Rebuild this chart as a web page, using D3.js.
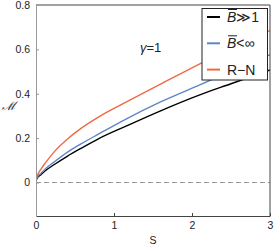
<!DOCTYPE html>
<html lang="en">
  <head>
    <meta charset="UTF-8" />
    <title>M vs S</title>
    <script src="https://d3js.org/d3.v7.min.js"></script>
    <style>
      body { margin: 0; background: #fff; }
      text { font-family: 'Liberation Sans', Arial, sans-serif; fill: #222; }
    </style>
  </head>
  <body>
    <div id="chart"></div>
    <script>
      // values
      const sValues = [0, 0.005, 0.02, 0.06, 0.128, 0.23, 0.4, 0.577, 0.8, 1.154, 1.59, 2.1, 2.5, 3.0];
      const mLarge = [0, 0.012, 0.022, 0.034, 0.055, 0.08, 0.118, 0.154, 0.197, 0.254, 0.322, 0.395, 0.445, 0.507];
      const mFinite = [0, 0.014, 0.026, 0.04, 0.064, 0.092, 0.136, 0.174, 0.218, 0.286, 0.362, 0.44, 0.502, 0.576];
      const mRN = [0, 0.018, 0.034, 0.058, 0.092, 0.137, 0.195, 0.244, 0.295, 0.362, 0.442, 0.535, 0.605, 0.685];
      const seriesNames = ['B\u0305\u226B1', 'B\u0305<\u221E', 'R\u2212N'];
      const seriesColors = ['#000000', '#5e86c6', '#ee6a42'];
      const xTicks = [0, 1, 2, 3];
      const yTicks = [0, 0.2, 0.4, 0.6, 0.8];

      const W = 274, H = 247;
      const margin = { top: 5, right: 4, bottom: 31, left: 36 };
      const width = W - margin.left - margin.right;
      const height = H - margin.top - margin.bottom;

      const svg = d3.select('#chart').append('svg')
        .attr('width', W).attr('height', H);

      const g = svg.append('g')
        .attr('transform', 'translate(' + margin.left + ',' + margin.top + ')');

      const x = d3.scaleLinear().domain([0, 3]).range([0, width]);
      const y = d3.scaleLinear().domain([-0.151, 0.8]).range([height, 0]);

      g.append('clipPath').attr('id', 'clip')
        .append('rect').attr('width', width).attr('height', height);

      // zero line
      g.append('line')
        .attr('x1', 0).attr('x2', width)
        .attr('y1', y(0)).attr('y2', y(0))
        .attr('stroke', '#999').attr('stroke-width', 1.2)
        .attr('stroke-dasharray', '5,3');

      const series = [mLarge, mFinite, mRN];
      const line = d3.line()
        .x((d, i) => x(sValues[i]))
        .y((d) => y(d))
        .curve(d3.curveMonotoneX);

      const plot = g.append('g').attr('clip-path', 'url(#clip)');
      series.forEach((s, k) => {
        plot.append('path')
          .datum(s)
          .attr('d', line)
          .attr('fill', 'none')
          .attr('stroke', seriesColors[k])
          .attr('stroke-width', 1.4);
      });

      // frame
      g.append('line').attr('x1', 0).attr('x2', width).attr('y1', 0).attr('y2', 0)
        .attr('stroke', '#444');
      g.append('line').attr('x1', width).attr('x2', width).attr('y1', 0).attr('y2', height)
        .attr('stroke', '#444');

      const xAxis = g.append('g')
        .attr('transform', 'translate(0,' + height + ')')
        .call(d3.axisBottom(x).tickValues(xTicks).tickFormat(d3.format('d'))
          .tickSizeInner(-3).tickSizeOuter(0).tickPadding(6));
      xAxis.select('.domain').attr('stroke', '#444');
      xAxis.selectAll('.tick line').attr('stroke', '#444');
      xAxis.selectAll('text').attr('font-size', 10.5).attr('fill', '#222')
        .attr('font-family', 'Liberation Sans, Arial, sans-serif');

      const yAxis = g.append('g')
        .call(d3.axisLeft(y).tickValues(yTicks).tickFormat((d) => (d === 0 ? '0' : d3.format('.1f')(d)))
          .tickSizeInner(-3).tickSizeOuter(0).tickPadding(6));
      yAxis.select('.domain').attr('stroke', '#999');
      yAxis.selectAll('.tick line').attr('stroke', '#999');
      yAxis.selectAll('text').attr('font-size', 10.5).attr('fill', '#222')
        .attr('font-family', 'Liberation Sans, Arial, sans-serif');

      // axis titles
      svg.append('text')
        .attr('x', 153).attr('y', 244)
        .attr('text-anchor', 'middle').attr('font-size', 10.5)
        .text('S');
      svg.append('text')
        .attr('x', 9).attr('y', 110)
        .attr('text-anchor', 'middle').attr('font-size', 12)
        .attr('font-style', 'italic')
        .attr('font-family', 'DejaVu Serif, serif')
        .text('\u2133');

      svg.append('text')
        .attr('x', 140).attr('y', 52)
        .attr('font-size', 13)
        .html('<tspan font-style="italic">\u03B3</tspan>=1');

      // legend
      const lg = svg.append('g').attr('transform', 'translate(202,8.5)');
      lg.append('rect')
        .attr('width', 65.5).attr('height', 71.5)
        .attr('fill', '#fff').attr('stroke', '#222').attr('stroke-width', 1);
      seriesNames.forEach((name, k) => {
        const yy = 8.5 + k * 26.3;
        lg.append('line')
          .attr('x1', 5).attr('x2', 18).attr('y1', yy).attr('y2', yy)
          .attr('stroke', seriesColors[k]).attr('stroke-width', 2);
        const t = lg.append('text')
          .attr('x', 25).attr('y', yy + 5)
          .attr('font-size', 14);
        if (k < 2) {
          t.append('tspan').attr('font-style', 'italic').text('B');
          t.append('tspan').text(k === 0 ? '\u226B1' : '<\u221E');
          lg.append('line')
            .attr('x1', 26).attr('x2', 35).attr('y1', yy - 7.5).attr('y2', yy - 7.5)
            .attr('stroke', '#222').attr('stroke-width', 1);
        } else {
          t.text(name);
        }
      });
    </script>
  </body>
</html>
